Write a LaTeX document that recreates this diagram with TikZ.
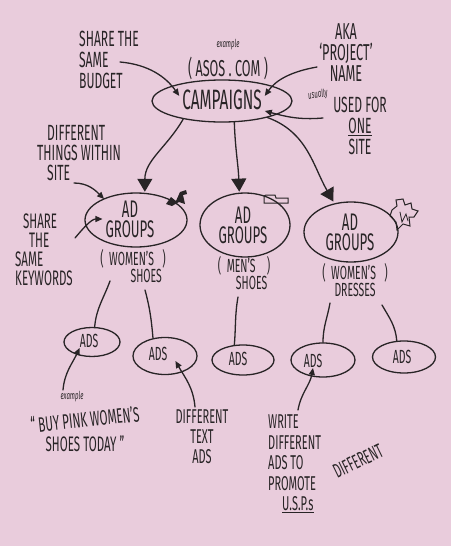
\documentclass[tikz,border=0pt]{standalone}
\usepackage{fontspec}
\setmainfont[FakeStretch=0.55]{Fira Sans}
\usetikzlibrary{arrows.meta,shapes.geometric}
\definecolor{paper}{RGB}{233,204,220}
\definecolor{ink}{RGB}{40,36,38}
\begin{document}
\begin{tikzpicture}[x=1pt,y=-1pt,
  pen/.style={draw=ink,line width=1.3pt,line cap=round},
  oval/.style={ellipse,draw=ink,line width=1.3pt,inner sep=0pt},
  txt/.style={text=ink,inner sep=0pt},
  note/.style={txt,align=center,font=\fontsize{22}{21}\selectfont},
  sub/.style={txt,align=center,font=\fontsize{19}{16}\selectfont},
  tinynote/.style={txt,font=\itshape\fontsize{11}{11}\selectfont},
  smallarrow/.style={pen,-{Triangle[length=7pt,width=6pt]}},
  bigarrow/.style={pen,-{Triangle[length=13pt,width=15pt]}},
  grouptext/.style={txt,font=\fontsize{24}{20}\selectfont,align=center},
  adtext/.style={txt,font=\fontsize{19}{19}\selectfont}
]
\path[fill=paper] (0,0) rectangle (451,546);
\useasboundingbox (0,0) rectangle (451,546);

% campaign
\node[oval,minimum width=140pt,minimum height=42pt] (camp) at (222,101) {};
\node[txt,font=\fontsize{28}{28}\selectfont] (campt) at (222,100) {CAMPAIGNS};
\node[tinynote] (ex1) at (228,45) {example};
\node[note,font=\fontsize{23}{23}\selectfont] (asos) at (228,68) {( ASOS . COM )};

% notes top
\node[note,align=left,anchor=north west] (budget) at (79,31) {SHARE THE\\SAME\\BUDGET};
\node[note,font=\fontsize{23}{21}\selectfont] (aka) at (346,53) {AKA\\`PROJECT'\\NAME};
\node[tinynote,rotate=8] (usually) at (318,95) {usually};
\node[note] (used) at (360,126) {USED FOR\\\underline{ONE}\\SITE};

\coordinate (bstart) at (120,62);
\coordinate (astart) at (317,67);
\coordinate (ustart) at (323,118);
\draw[smallarrow,shorten >=5pt] (bstart) to[out=-5,in=125] (campt.west);
\draw[smallarrow,shorten >=5pt] (astart) to[out=190,in=55] (campt.east);
\draw[smallarrow,shorten >=3pt] (ustart) to[out=185,in=-15] (campt.south east);

% ad groups
\node[oval,minimum width=102pt,minimum height=54pt] (g1) at (136,220) {};
\node[oval,minimum width=90pt,minimum height=64pt] (g2) at (245,225) {};
\node[oval,minimum width=94pt,minimum height=60pt] (g3) at (351,232) {};
\node[grouptext] (g1t) at (130,219) {AD\\GROUPS};
\node[grouptext] (g2t) at (243,225) {AD\\GROUPS};
\node[grouptext] (g3t) at (350,232) {AD\\GROUPS};

\node[sub] (s1) at (133,266) {(\ \ WOMEN'S\ \ \ )\\\hspace{1.4em}SHOES};
\node[sub] (s2) at (244,273) {(\ \ MEN'S\ \ \ \ )\\\hspace{0.8em}SHOES};
\node[sub] (s3) at (355,280) {(\ \ WOMEN'S\ \ \ )\\DRESSES};

\draw[bigarrow,shorten >=1pt] (camp.205) to[out=-120,in=90] (g1.72);
\draw[bigarrow,shorten >=1pt] (camp.300) to[out=-88,in=92] (g2.100);
\draw[bigarrow,shorten >=2pt] (camp.-20) to[out=-20,in=120] (g3.120);

% left notes
\node[note,align=left,anchor=north west,font=\fontsize{22}{20}\selectfont] (diff) at (37,125) {\hspace{10pt}DIFFERENT\\THINGS WITHIN\\\hspace{10pt}SITE};
\node[note,align=left,anchor=north west,font=\fontsize{21}{19}\selectfont] (kw) at (15,214) {\hspace{8pt}SHARE\\\hspace{14pt}THE\\SAME\\KEYWORDS};
\coordinate (dstart) at (74,183);
\coordinate (kstart) at (75,238);
\draw[smallarrow,shorten >=2pt] (dstart) to[out=0,in=135] (g1t.north west);
\draw[smallarrow,shorten >=3pt] (kstart) to[out=50,in=180] (g1t.west);

% doodles
\fill[ink] (166,204) -- (171,197) -- (176,201) -- (180,192) -- (186,190) -- (187,194) -- (183,195) -- (185,204) -- (179,202) -- (172,206) -- cycle;
\draw[pen,line width=1pt] (264,196) -- (264,203) -- (288,203) -- (288,198) -- (276,198) -- (275,195) -- (266,195) -- cycle;
\draw[pen,line width=1pt] (392,210) -- (397,206) -- (396,200) -- (403,199) -- (405,205) -- (411,203) -- (412,209) -- (418,211) -- (414,217) -- (409,217) -- (410,226) -- (403,224) -- (397,230) -- (396,222) -- (390,216) -- cycle;
\draw[pen,line width=0.8pt] (400,212) -- (402,222) -- (406,214) -- (408,221);

% ads
\node[oval,minimum width=56pt,minimum height=29pt] (a1) at (92,342) {};
\node[oval,minimum width=64pt,minimum height=37pt] (a2) at (165,356) {};
\node[oval,minimum width=62pt,minimum height=30pt] (a3) at (243,360) {};
\node[oval,minimum width=64pt,minimum height=34pt] (a4) at (323,360) {};
\node[oval,minimum width=63pt,minimum height=32pt] (a5) at (404,357) {};
\node[adtext] (a1t) at (89,341) {ADS};
\node[adtext] (a2t) at (158,354) {ADS};
\node[adtext] (a3t) at (238,359) {ADS};
\node[adtext] (a4t) at (313,361) {ADS};
\node[adtext] (a5t) at (402,357) {ADS};

\coordinate (c1) at (110,281);
\coordinate (c2) at (145,290);
\coordinate (c3) at (238,297);
\coordinate (c4) at (330,303);
\coordinate (c5) at (382,305);
\draw[pen] (c1) to[out=-110,in=85] (a1.80);
\draw[pen] (c2) to[out=-75,in=95] (a2.124);
\draw[pen] (c3) to[out=-100,in=85] (a3.120);
\draw[pen] (c4) to[out=-100,in=90] (a4.north);
\draw[pen] (c5) to[out=-60,in=95] (a5.114);

% bottom notes
\node[tinynote] (ex2) at (72,397) {example};
\node[note,font=\fontsize{21}{19}\selectfont] (buy) at (85,429) {\rotatebox{6}{`` BUY PINK WOMEN'S}\\SHOES TODAY ''};
\node[note,font=\fontsize{20}{20}\selectfont] (dtext) at (202,437) {DIFFERENT\\TEXT\\ADS};
\node[note,align=left,anchor=north west,font=\fontsize{20}{20.5}\selectfont] (write) at (268,415) {WRITE\\DIFFERENT\\ADS TO\\PROMOTE\\\hspace{14pt}\underline{U.S.P.s}};
\node[note,font=\fontsize{20}{20}\selectfont,rotate=26] (diff2) at (358,461) {DIFFERENT};

\coordinate (e1) at (63,390);
\coordinate (e2) at (195,407);
\coordinate (e3) at (298,410);
\draw[smallarrow] (e1) to[out=85,in=-115] (a1t.south west);
\draw[smallarrow] (e2) to[out=95,in=-60] ([xshift=8pt]a2t.south east);
\draw[smallarrow] (e3) to[out=80,in=-100] (a4t.south);
\end{tikzpicture}
\end{document}
